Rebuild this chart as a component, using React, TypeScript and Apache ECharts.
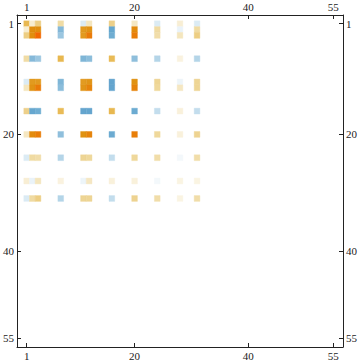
import React, { useEffect, useRef } from "react";
import * as echarts from "echarts";

// Non-zero row/column indices of the 55x55 matrix
const indices = [1, 2, 3, 7, 11, 12, 16, 20, 24, 28, 31];
// Matrix values (rows in the order of `indices`, columns in the order of `indices`)
const row1 = [0.5, 0.13, 0.35, 0.25, -0.12, 0.18, 0.33, 0.17, -0.12, 0.12, -0.12];
const row2 = [0.13, 0.76, 0.76, -0.4, 0.69, 0.73, -0.5, 0.78, 0.26, -0.07, 0.26];
const row3 = [0.35, 0.76, 0.97, -0.33, 0.69, 0.87, -0.47, 0.86, 0.24, 0.18, 0.35];
const row7 = [0.25, -0.4, -0.33, 0.5, -0.42, -0.38, 0.48, -0.37, -0.25, 0.09, -0.25];
const row11 = [-0.12, 0.69, 0.69, -0.42, 0.68, 0.72, -0.52, 0.74, 0.3, -0.06, 0.3];
const row12 = [0.18, 0.73, 0.87, -0.38, 0.72, 0.82, -0.52, 0.82, 0.28, 0.17, 0.3];
const row16 = [0.33, -0.5, -0.47, 0.48, -0.52, -0.52, 0.5, -0.48, -0.2, 0.1, -0.2];
const row20 = [0.17, 0.78, 0.86, -0.37, 0.74, 0.82, -0.48, 0.85, 0.28, 0.1, 0.31];
const row24 = [-0.12, 0.26, 0.24, -0.25, 0.3, 0.28, -0.2, 0.28, 0.24, -0.04, 0.24];
const row28 = [0.12, -0.07, 0.18, 0.09, -0.06, 0.17, 0.1, 0.1, -0.04, 0.08, 0.08];
const row31 = [-0.12, 0.26, 0.35, -0.25, 0.3, 0.3, -0.2, 0.31, 0.24, 0.08, 0.24];
const rows = [row1, row2, row3, row7, row11, row12, row16, row20, row24, row28, row31];

// Tick labels
const tickValues = [1, 20, 40, 55];
const matrixSize = 55;

export default function App() {
  const ref = useRef<HTMLDivElement>(null);
  useEffect(() => {
    if (!ref.current) return;
    const chart = echarts.init(ref.current, null, { renderer: "svg" });
    const data: number[][] = [];
    rows.forEach((r, i) => {
      r.forEach((v, j) => {
        data.push([indices[j], indices[i], v]);
      });
    });
    const labelStyle = {
      fontFamily: "Liberation Serif",
      fontSize: 11,
      color: "#222",
      margin: 3,
      customValues: tickValues,
    };
    const tickStyle = {
      show: true,
      inside: true,
      length: 4,
      customValues: tickValues,
      lineStyle: { color: "#222", width: 1 },
    };
    const lineStyle = { show: true, onZero: false, lineStyle: { color: "#222", width: 1 } };
    const xBase = {
      type: "value" as const,
      min: -0.7,
      max: matrixSize + 1.7,
      splitLine: { show: false },
      axisLine: lineStyle,
      axisTick: tickStyle,
      axisLabel: labelStyle,
    };
    const yBase = {
      type: "value" as const,
      min: -0.5,
      max: matrixSize + 1.5,
      inverse: true,
      splitLine: { show: false },
      axisLine: lineStyle,
      axisTick: tickStyle,
      axisLabel: labelStyle,
    };
    chart.setOption({
      animation: false,
      grid: { left: 13, right: 13, top: 15, bottom: 16, containLabel: false },
      xAxis: [
        { ...xBase, position: "top" },
        { ...xBase, position: "bottom" },
      ],
      yAxis: [
        { ...yBase, position: "left" },
        { ...yBase, position: "right" },
      ],
      visualMap: {
        type: "continuous",
        show: false,
        min: -1,
        max: 1,
        dimension: 2,
        seriesIndex: 0,
        inRange: {
          color: [
            "#2f7fb8",
            "#4a93c4",
            "#66a7cf",
            "#b4d5e8",
            "#ffffff",
            "#f0dca5",
            "#e8b850",
            "#e0900f",
            "#f56400",
          ],
        },
      },
      series: [
        {
          type: "custom",
          xAxisIndex: 0,
          yAxisIndex: 0,
          encode: { x: 0, y: 1 },
          data,
          renderItem: (params: any, api: any) => {
            const x = api.value(0);
            const y = api.value(1);
            const p0 = api.coord([x - 0.5, y - 0.5]);
            const p1 = api.coord([x + 0.5, y + 0.5]);
            const c = api.visual("color");
            return {
              type: "rect",
              shape: {
                x: Math.min(p0[0], p1[0]),
                y: Math.min(p0[1], p1[1]),
                width: Math.abs(p1[0] - p0[0]),
                height: Math.abs(p1[1] - p0[1]),
              },
              style: { fill: c, stroke: c, lineWidth: 0.4 },
            };
          },
        },
      ],
    });
    return () => chart.dispose();
  }, []);
  return (
    <div
      ref={ref}
      style={{ position: "fixed", left: 0, top: 0, width: 360, height: 363, background: "#fff" }}
    />
  );
}
